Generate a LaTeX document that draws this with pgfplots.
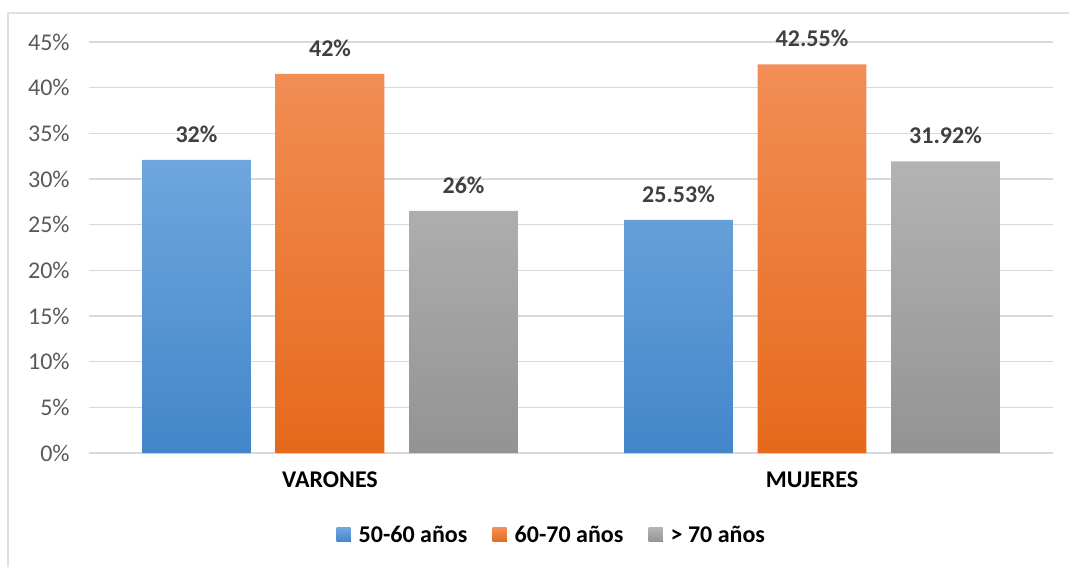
\documentclass[border=0pt]{standalone}
\usepackage{pgfplots}
\pgfplotsset{compat=1.18}
\usepackage{fontspec}
\setmainfont{Carlito}
\definecolor{tickgray}{HTML}{595959}
\definecolor{lblgray}{HTML}{404040}
\definecolor{gridgray}{HTML}{D9D9D9}
\definecolor{bluetop}{HTML}{6FA6DE}
\definecolor{bluebot}{HTML}{4286C9}
\definecolor{orangetop}{HTML}{F28E56}
\definecolor{orangebot}{HTML}{E5691B}
\definecolor{graytop}{HTML}{B3B3B3}
\definecolor{graybot}{HTML}{939393}
\begin{document}
\begin{tikzpicture}
\useasboundingbox (0,0) rectangle (801.75pt,425.25pt);
\draw[gray!25, line width=1.2pt] (6pt,0) -- (6pt,415.5pt) -- (801.75pt,415.5pt);
\begin{axis}[
  at={(66.75pt,85.5pt)}, anchor=south west,
  scale only axis, width=723pt, height=308.25pt,
  ybar, bar width=0.226,
  xmin=-0.5, xmax=1.5, ymin=0, ymax=45,
  xtick={0,1}, xticklabels={VARONES,MUJERES},
  ytick={0,5,...,45},
  yticklabel={\pgfmathprintnumber{\tick}\%},
  /pgf/number format/assume math mode=true,
  major tick length=0pt,
  axis line style={draw=none},
  ymajorgrids, grid style={gridgray, line width=1.1pt},
  yticklabel style={font=\fontsize{18}{20}\selectfont, text=tickgray, xshift=-11pt},
  xticklabel style={font=\fontsize{18}{20}\selectfont\bfseries, text=black, yshift=-10.5pt},
  nodes near coords,
  point meta=explicit symbolic,
  every node near coord/.append style={font=\fontsize{18}{20}\selectfont\bfseries, text=lblgray, yshift=9.5pt},
  legend columns=3,
  legend style={at={(0.4805,-0.1995)}, anchor=center, draw=none, fill=none,
    font=\fontsize{18}{20}\selectfont\bfseries,
    /tikz/every even column/.append style={column sep=17pt},
    column sep=4pt},
]
\addplot[draw=none, top color=bluetop, bottom color=bluebot, bar shift=-0.277,
  legend image code/.code={\fill[top color=bluetop, bottom color=bluebot] (0pt,-5.25pt) rectangle (10.5pt,5.25pt);}]
  coordinates {(0,32.1) [32\%] (1,25.53) [25.53\%]};
\addplot[draw=none, top color=orangetop, bottom color=orangebot, bar shift=0,
  legend image code/.code={\fill[top color=orangetop, bottom color=orangebot] (0pt,-5.25pt) rectangle (10.5pt,5.25pt);}]
  coordinates {(0,41.5) [42\%] (1,42.55) [42.55\%]};
\addplot[draw=none, top color=graytop, bottom color=graybot, bar shift=0.277,
  legend image code/.code={\fill[top color=graytop, bottom color=graybot] (0pt,-5.25pt) rectangle (10.5pt,5.25pt);}]
  coordinates {(0,26.5) [26\%] (1,31.92) [31.92\%]};
\legend{50-60 años, 60-70 años, > 70 años}
\end{axis}
\end{tikzpicture}
\end{document}
